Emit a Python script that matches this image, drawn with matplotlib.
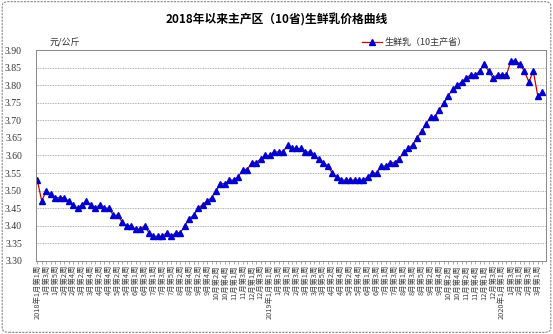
import numpy as np
import matplotlib
import matplotlib.pyplot as plt
from matplotlib.patches import FancyBboxPatch
matplotlib.use('Agg')
plt.rcParams['font.family'] = ['Noto Sans CJK SC', 'DejaVu Sans']

# 周度生鲜乳价格（元/公斤），2018年1月第1周起
price = [3.53, 3.47, 3.50, 3.49, 3.48, 3.48, 3.48, 3.47, 3.46, 3.45,
         3.46, 3.47, 3.46, 3.45, 3.46, 3.45, 3.45, 3.43, 3.43, 3.41,
         3.40, 3.40, 3.39, 3.39, 3.40, 3.38, 3.37, 3.37, 3.37, 3.38,
         3.37, 3.38, 3.38, 3.40, 3.42, 3.43, 3.45, 3.46, 3.47, 3.48,
         3.50, 3.52, 3.52, 3.53, 3.53, 3.54, 3.56, 3.56, 3.58, 3.58,
         3.59, 3.60, 3.60, 3.61, 3.61, 3.61, 3.63, 3.62, 3.62, 3.62,
         3.61, 3.61, 3.60, 3.59, 3.58, 3.57, 3.55, 3.54, 3.53, 3.53,
         3.53, 3.53, 3.53, 3.53, 3.54, 3.55, 3.55, 3.57, 3.57, 3.58,
         3.58, 3.59, 3.61, 3.62, 3.63, 3.65, 3.67, 3.69, 3.71, 3.71,
         3.73, 3.75, 3.77, 3.79, 3.80, 3.81, 3.82, 3.83, 3.83, 3.84,
         3.86, 3.84, 3.82, 3.83, 3.83, 3.83, 3.87, 3.87, 3.86, 3.84,
         3.81, 3.84, 3.77, 3.78]

# 每月周数（用于横轴标签）
years = [2018, 2019, 2020]
weeks_per_month = [
    [5, 4, 4, 4, 5, 4, 5, 4, 4, 5, 4, 4],
    [4, 4, 5, 4, 5, 4, 4, 5, 4, 4, 5, 4],
    [4, 4, 2],
]

labels = []
for y, wpm in zip(years, weeks_per_month):
    for m, n in enumerate(wpm, start=1):
        for w in range(1, n + 1):
            if m == 1 and w == 1:
                labels.append(f'{y}年{m}月第{w}周')
            else:
                labels.append(f'{m}月第{w}周')

yticks = np.arange(3.30, 3.901, 0.05)

fig = plt.figure(figsize=(5.53, 3.34), dpi=100)
fig.patches.append(FancyBboxPatch((0.004, 0.005), 0.992, 0.99,
                                  boxstyle='round,pad=0,rounding_size=0.012',
                                  transform=fig.transFigure, fill=False,
                                  ec='#888888', lw=0.8, ls=(0, (2, 1))))
ax = fig.add_axes([0.065, 0.219, 0.922, 0.631])

x = np.arange(len(price))
ax.plot(x, price, color='#CC0000', lw=0.9, marker='^', ms=4.0,
        mfc='#0000CC', mec='#0000CC', label='生鲜乳（10主产省）')

ax.set_xlim(-0.3, 113.8)
ax.set_ylim(3.30, 3.90)
ax.set_yticks(yticks)
ax.set_yticklabels([f'{v:.2f}' for v in yticks], fontsize=7,
                   family=['Liberation Serif', 'DejaVu Sans'], color='#333333')
ax.tick_params(axis='y', length=0, pad=10)
ax.set_xticks(x, minor=True)
ax.set_xticks(x[::2])
ax.set_xticklabels(labels[::2][:len(x[::2])], rotation=90, fontsize=5.3,
                   va='top', color='#444444')
ax.tick_params(axis='x', which='both', length=2, width=0.5, color='#888888', pad=1)
ax.grid(axis='y', color='#999999', lw=0.6, ls=(0, (1, 1)))
for s in ax.spines.values():
    s.set_color('#888888')
    s.set_linewidth(0.7)
    s.set_linestyle((0, (1, 1)))

fig.text(0.5, 0.94, '2018年以来主产区（10省)生鲜乳价格曲线', ha='center',
         va='center', fontsize=8.5, fontweight='bold')
fig.text(0.09, 0.872, '元/公斤', fontsize=6.5, color='#333333', va='center')
ax.legend(loc='lower left', bbox_to_anchor=(0.635, 1.0), frameon=False,
          fontsize=6.5, handlelength=2.2, borderpad=0, borderaxespad=0.3,
          handletextpad=0.3, labelcolor='#333333')

fig.savefig('out.png', dpi=100)
